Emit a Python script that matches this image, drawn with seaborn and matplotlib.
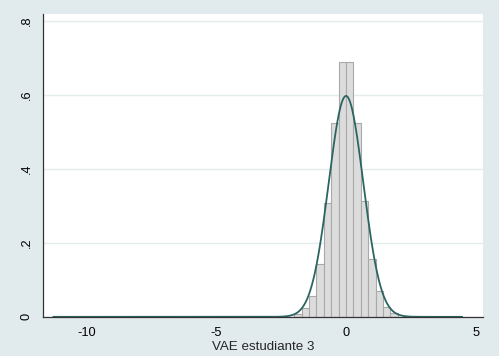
import numpy as np
import pandas as pd
import seaborn as sns
import matplotlib.pyplot as plt

# histogram (density scale)
bin_width = 0.285
bin_edges = [i * bin_width for i in range(-7, 8)]
densities = [0.009, 0.023, 0.056, 0.144, 0.309, 0.524, 0.688,
             0.688, 0.524, 0.313, 0.157, 0.069, 0.026, 0.010]

# normal overlay, drawn over the range of the variable
norm_mean = 0.0
norm_sd = 0.668
x_min, x_max = -11.28, 4.48

x_ticks = [-10, -5, 0, 5]
y_ticks = [0, 0.2, 0.4, 0.6, 0.8]
y_labels = ['0', '.2', '.4', '.6', '.8']

bg = '#e1eaed'
sns.set_style('white')
plt.rcParams['font.family'] = ['Liberation Sans', 'DejaVu Sans']
plt.rcParams['axes.unicode_minus'] = False

fig = plt.figure(figsize=(4.99, 3.56), dpi=100, facecolor=bg)
ax = fig.add_axes([0.086, 0.110, 0.882, 0.852])
ax.set_facecolor('white')

centers = [(a + b) / 2 for a, b in zip(bin_edges[:-1], bin_edges[1:])]
hist = pd.DataFrame({'x': centers, 'd': densities})
sns.histplot(data=hist, x='x', weights='d', bins=bin_edges, stat='count',
             color='#dcdcdc', edgecolor='#a9a9a9', linewidth=0.8, alpha=1, ax=ax)

grid_x = np.linspace(x_min, x_max, 800)
pdf = np.exp(-0.5 * ((grid_x - norm_mean) / norm_sd) ** 2) / (norm_sd * np.sqrt(2 * np.pi))
sns.lineplot(x=grid_x, y=pdf, color='#2b6561', linewidth=1.3, ax=ax)

ax.set_xlim(-11.68, 5.28)
ax.set_ylim(0, 0.82)
ax.set_xticks(x_ticks)
ax.set_yticks(y_ticks)
ax.set_yticklabels(y_labels, rotation=90, va='center')
ax.yaxis.grid(True, color='#e4ecee', linewidth=1)
ax.set_axisbelow(True)
ax.tick_params(axis='both', length=5, width=0.8, color='#555555',
               labelsize=9.2, labelcolor='black', direction='out', pad=2.5)
for s in ['top', 'right']:
    ax.spines[s].set_visible(False)
for s in ['left', 'bottom']:
    ax.spines[s].set_color('#333333')
    ax.spines[s].set_linewidth(0.9)
ax.set_xlabel('VAE estudiante 3', fontsize=9.6, labelpad=1)
ax.set_ylabel('')

fig.savefig('out.png', dpi=100, facecolor=bg)
